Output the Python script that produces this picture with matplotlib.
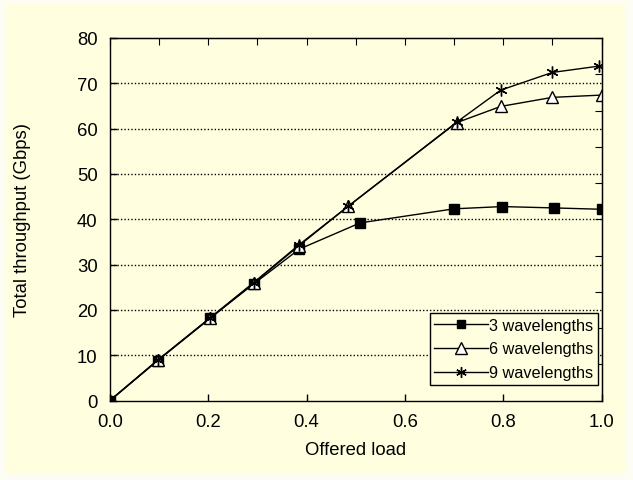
import matplotlib.pyplot as plt
from matplotlib.patches import Rectangle

plt.rcParams['font.family'] = ['Liberation Sans', 'DejaVu Sans']

# data
load_3 = [0.0, 0.097, 0.203, 0.292, 0.385, 0.509, 0.700, 0.798, 0.903, 1.0]
thr_3 = [0.0, 8.8, 18.1, 25.7, 33.4, 39.2, 42.3, 42.8, 42.5, 42.2]
load_6 = [0.0, 0.097, 0.203, 0.292, 0.385, 0.485, 0.705, 0.795, 0.900, 1.0]
thr_6 = [0.0, 8.9, 18.1, 25.9, 34.2, 42.9, 61.3, 64.9, 66.9, 67.4]
load_9 = [0.0, 0.097, 0.203, 0.292, 0.385, 0.485, 0.705, 0.795, 0.900, 0.995]
thr_9 = [0.0, 8.9, 18.2, 26.0, 34.4, 42.9, 61.4, 68.5, 72.4, 73.8]
labels = ['3 wavelengths', '6 wavelengths', '9 wavelengths']
x_ticks = [0.0, 0.2, 0.4, 0.6, 0.8, 1.0]
y_ticks = [0, 10, 20, 30, 40, 50, 60, 70, 80]

bg = '#ffffe0'
fs = 13.3
fig = plt.figure(figsize=(6.33, 4.81), dpi=100, facecolor='#fdfdf3')
fig.patches.append(Rectangle((6 / 633, 6 / 481), 620 / 633, 470 / 481,
                             transform=fig.transFigure, facecolor=bg,
                             edgecolor='none', zorder=-10))
ax = fig.add_axes([110 / 633, 1 - 401.5 / 481, 491.5 / 633, 362.5 / 481])
ax.set_facecolor(bg)

ax.plot(load_3, thr_3, color='black', lw=1, marker='s', ms=7,
        mfc='black', mec='black', label=labels[0])
ax.plot(load_6, thr_6, color='black', lw=1, marker='^', ms=9,
        mfc='white', mec='black', mew=1, label=labels[1])
ax.plot(load_9, thr_9, color='black', lw=1, marker=(6, 2, 0), ms=8.5,
        mec='black', mew=1, label=labels[2])

ax.set_xlim(0, 1.0)
ax.set_ylim(0, 80)
ax.set_xticks(x_ticks)
ax.set_xticklabels(['%.1f' % v for v in x_ticks])
ax.set_yticks(y_ticks)
ax.tick_params(direction='in', length=5, labelsize=fs, width=1)
ax.tick_params(axis='x', pad=9)
ax.tick_params(axis='y', pad=9)

# dotted gridlines, horizontal only
for v in y_ticks[1:-1]:
    ax.axhline(v, color='black', lw=1, ls=(0, (1, 1.5)), zorder=0.5)

# top and right ticks on their own spacing
top = ax.secondary_xaxis('top')
top.set_xticks([i / 10 for i in range(11)])
top.tick_params(direction='in', length=5, labeltop=False)
right = ax.secondary_yaxis('right')
right.set_yticks([8 * i for i in range(11)])
right.tick_params(direction='in', length=5, labelright=False)

for s in ax.spines.values():
    s.set_linewidth(1)

ax.set_xlabel('Offered load', fontsize=fs, labelpad=8)
ax.set_ylabel('Total throughput (Gbps)', fontsize=fs, labelpad=33)

leg = ax.legend(loc='lower right', bbox_to_anchor=(0.993, 0.042),
                fontsize=11.7, frameon=True, fancybox=False,
                handlelength=3.3, handletextpad=0.05, labelspacing=0.55,
                borderpad=0.3, borderaxespad=0, markerscale=0.9)
leg.get_frame().set_edgecolor('black')
leg.get_frame().set_facecolor(bg)
leg.get_frame().set_linewidth(1)
leg.get_frame().set_alpha(1)

fig.savefig('out.png', dpi=100, facecolor=fig.get_facecolor())
